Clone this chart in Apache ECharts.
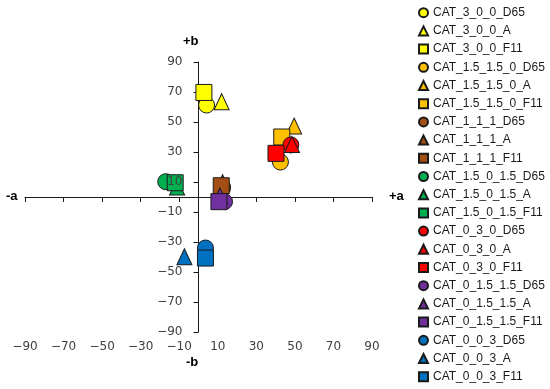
<!DOCTYPE html>
<html>
<head>
<meta charset="utf-8">
<script src="https://cdn.jsdelivr.net/npm/echarts@6/dist/echarts.min.js"></script>
<style>html,body{margin:0;padding:0;background:#fff;}#c{width:550px;height:389px;}</style>
</head>
<body>
<div id="c"></div>
<script>
// ---- data ----
const categories = ['CAT_3_0_0', 'CAT_1.5_1.5_0', 'CAT_1_1_1', 'CAT_1.5_0_1.5', 'CAT_0_3_0', 'CAT_0_1.5_1.5', 'CAT_0_0_3'];
const illuminants = ['D65', 'A', 'F11'];
const aD65 = [4.2, 42.5, 12.5, -17, 47.9, 13.5, 3.6];
const bD65 = [61.3, 23.3, 6.5, 10.2, 34.7, -3.1, -34];
const aA   = [12, 49.6, 12.5, -11.1, 48.5, 11.1, -7.3];
const bA   = [63.5, 47.3, 9.5, 6.7, 35, 0.7, -39.8];
const aF11 = [2.8, 43.2, 11.8, -12.1, 40.2, 10.6, 3.6];
const bF11 = [69.7, 40, 7.5, 9.5, 29.1, -3.1, -40.7];
const axisTicks = [-90, 90, 20];

// ---- styles ----
const catColors = ['#FFFF00', '#FFC000', '#A34E12', '#00B050', '#FF0000', '#7030A0', '#0070C0'];
const illumSymbols = { D65: 'circle', A: 'triangle', F11: 'rect' };
const illumSizes = { D65: 16, A: [15, 16], F11: 16 };
const valuesByIllum = { D65: [aD65, bD65], A: [aA, bA], F11: [aF11, bF11] };

const series = [];
const names = [];
categories.forEach((cat, i) => {
  illuminants.forEach(il => {
    const name = cat + '_' + il;
    names.push(name);
    const [av, bv] = valuesByIllum[il];
    series.push({
      name: name,
      type: 'scatter',
      xAxisIndex: 0,
      yAxisIndex: 0,
      symbol: illumSymbols[il],
      symbolSize: illumSizes[il],
      itemStyle: { color: catColors[i], borderColor: '#1a1a1a', borderWidth: 1, opacity: 1 },
      emphasis: { disabled: true },
      data: [[av[i], bv[i]]]
    });
  });
});

const W = 550, gridL = 25, gridR = 178;
const gridW = W - gridL - gridR;
// the label-only y axis sits where a = 0 on the horizontal scale
const labelAxisOffset = -gridW * (0 - axisTicks[0]) / (axisTicks[1] - axisTicks[0]);

const fmt = v => (v < 0 ? '\u2212' : '') + Math.abs(v);
const labelStyle = { fontFamily: 'DejaVu Sans', fontSize: 12, color: '#404040' };
const range = { type: 'value', min: axisTicks[0], max: axisTicks[1], interval: axisTicks[2] };

const chart = echarts.init(document.getElementById('c'), null, { renderer: 'canvas' });
chart.setOption({
  animation: false,
  backgroundColor: '#ffffff',
  grid: { left: gridL, right: gridR, top: 62, bottom: 57, containLabel: false, outerBoundsMode: 'none' },
  xAxis: Object.assign({
    position: 'bottom',
    axisLine: { onZero: true, onZeroAxisIndex: 0, lineStyle: { color: '#1a1a1a', width: 1 } },
    axisTick: { show: true, inside: false, length: 5, lineStyle: { color: '#1a1a1a' } },
    splitLine: { show: false },
    axisLabel: Object.assign({ margin: 9, formatter: fmt }, labelStyle)
  }, range),
  yAxis: [
    Object.assign({
      position: 'left',
      axisLine: { onZero: true, onZeroAxisIndex: 0, lineStyle: { color: '#1a1a1a', width: 1 } },
      axisTick: { show: true, inside: false, length: 5, lineStyle: { color: '#1a1a1a' } },
      splitLine: { show: false },
      axisLabel: { show: false }
    }, range),
    Object.assign({
      position: 'left',
      offset: labelAxisOffset,
      z: 10,
      axisLine: { show: false, onZero: false },
      axisTick: { show: false },
      splitLine: { show: false },
      axisLabel: Object.assign({ margin: 16, formatter: fmt }, labelStyle)
    }, range)
  ],
  legend: {
    orient: 'vertical', left: 418, top: 6.7, bottom: 0, padding: 0,
    itemWidth: 9, itemHeight: 9, itemGap: 6.2,
    data: names,
    textStyle: { fontFamily: 'Liberation Sans', fontSize: 12, color: '#1a1a1a' }
  },
  graphic: [
    { type: 'text', left: 183, top: 35, style: { text: '+b', font: 'bold 13px Liberation Sans', fill: '#000' } },
    { type: 'text', left: 186, top: 356, style: { text: '-b', font: 'bold 13px Liberation Sans', fill: '#000' } },
    { type: 'text', left: 6, top: 190, style: { text: '-a', font: 'bold 13px Liberation Sans', fill: '#000' } },
    { type: 'text', left: 389, top: 190, style: { text: '+a', font: 'bold 13px Liberation Sans', fill: '#000' } }
  ],
  series: series
});
</script>
</body>
</html>
